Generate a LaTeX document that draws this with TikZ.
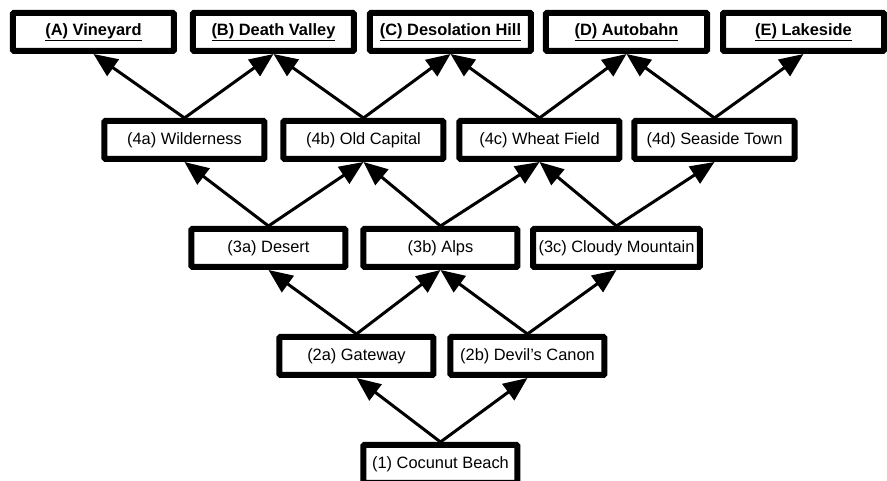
\documentclass[tikz,border=0pt]{standalone}
\usepackage{fontspec}
\setmainfont{Liberation Sans}
\usetikzlibrary{arrows.meta, positioning, calc}

\begin{document}
\begin{tikzpicture}[>={Triangle[length=24pt,width=20pt]},on grid,
    place/.style={draw,line width=6pt,rounded corners=1pt,minimum width=154pt,minimum height=38pt,
      inner xsep=5.5pt,font=\fontsize{16.4}{20}\selectfont},
    town/.style={place,minimum width=160pt},
    goal/.style={place,minimum width=161pt,font=\fontsize{16.4}{20}\selectfont\bfseries}]

    \node[place] (1) {(1) Cocunut Beach};
    \node[place] (2a) [above left=108pt and 84pt of 1] {(2a) Gateway};
    \node[place] (2b) [above right=108pt and 87pt of 1] {(2b) Devil's Canon};
    \node[place] (3a) [above left=108pt and 88pt of 2a] {(3a) Desert};
    \node[place] (3b) [above right=108pt and 84pt of 2a] {(3b) Alps};
    \node[place] (3c) [above right=108pt and 89pt of 2b] {(3c) Cloudy Mountain};
    \node[town] (4a) [above left=108pt and 84pt of 3a] {(4a) Wilderness};
    \node[town] (4b) [above right=108pt and 95pt of 3a] {(4b) Old Capital};
    \node[town] (4c) [above right=108pt and 99pt of 3b] {(4c) Wheat Field};
    \node[town] (4d) [above right=108pt and 98pt of 3c] {(4d) Seaside Town};
    \node[goal] (A) [above left=108pt and 91pt of 4a] {\underline{(A) Vineyard}};
    \node[goal] (B) [above right=108pt and 89pt of 4a] {\underline{(B) Death Valley}};
    \node[goal] (C) [above right=108pt and 87pt of 4b] {\underline{(C) Desolation Hill}};
    \node[goal] (D) [above right=108pt and 87pt of 4c] {\underline{(D) Autobahn}};
    \node[goal] (E) [above right=108pt and 89pt of 4d] {\underline{(E) Lakeside}};

    \path[->,line width=3pt]
    (1.north) edge (2a.south)
    (1.north) edge (2b.south)
    (2a.north) edge (3a.south)
    (2a.north) edge (3b.south)
    (2b.north) edge (3b.south)
    (2b.north) edge (3c.south)
    (3a.north) edge (4a.south)
    (3a.north) edge (4b.south)
    (3b.north) edge (4b.south)
    (3b.north) edge (4c.south)
    (3c.north) edge (4c.south)
    (3c.north) edge (4d.south)
    (4a.north) edge (A.south)
    (4a.north) edge (B.south)
    (4b.north) edge (B.south)
    (4b.north) edge (C.south)
    (4c.north) edge (C.south)
    (4c.north) edge (D.south)
    (4d.north) edge (D.south)
    (4d.north) edge (E.south);

    \coordinate (low) at ($(1.north)+(0,-39pt)$);
    \pgfresetboundingbox
    \useasboundingbox ($(A.north west)+(-10pt,10pt)$) rectangle (E.east |- low);
\end{tikzpicture}
\end{document}
